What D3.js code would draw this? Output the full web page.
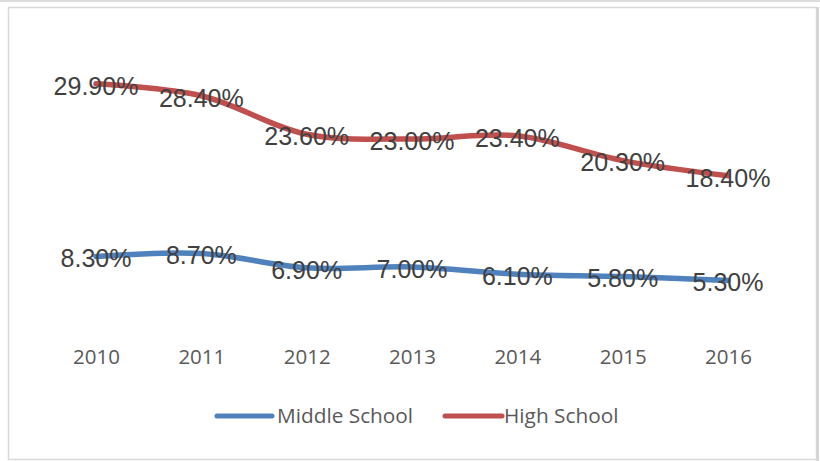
<!DOCTYPE html>
<html><head><meta charset="utf-8">
<script src="https://cdn.jsdelivr.net/npm/d3@7/dist/d3.min.js"></script>
<style>body{margin:0;background:#fff}svg{display:block}</style>
</head><body>
<svg id="c" width="820" height="461"></svg>
<script>
const years = ["2010","2011","2012","2013","2014","2015","2016"];
const middleSchool = [8.3, 8.7, 6.9, 7.0, 6.1, 5.8, 5.3];
const highSchool = [29.9, 28.4, 23.6, 23.0, 23.4, 20.3, 18.4];
const seriesNames = ["Middle School", "High School"];
const seriesColors = ["#4f81bd", "#c0504d"];

const svg = d3.select("#c");
// frame
svg.append("rect").attr("x",0).attr("y",0).attr("width",820).attr("height",2).attr("fill","#dcdcdc");
svg.append("rect").attr("x",8.5).attr("y",7.5).attr("width",808).attr("height",452)
  .attr("fill","none").attr("stroke","#d9d9d9").attr("stroke-width",1.5);
svg.append("rect").attr("x",816.5).attr("y",7).attr("width",2.5).attr("height",454).attr("fill","#d4d4d4");

const x = d3.scalePoint().domain(years).range([96, 728]);
const y = d3.scaleLinear().domain([0, 35]).range([323, 43]);

const line = d3.line().x((d,i)=>x(years[i])).y(d=>y(d)).curve(d3.curveCatmullRom.alpha(0.5));

const data = [middleSchool, highSchool];
data.forEach((s, k) => {
  svg.append("path").attr("d", line(s)).attr("fill","none")
    .attr("stroke", seriesColors[k]).attr("stroke-width",5.5)
    .attr("stroke-linecap","round").attr("stroke-linejoin","round");
});
data.forEach((s, k) => {
  svg.append("g").selectAll("text").data(s).join("text")
    .attr("x",(d,i)=>x(years[i])).attr("y",d=>y(d)+2).attr("dy","0.35em")
    .attr("text-anchor","middle")
    .attr("font-family","Liberation Sans, Arial, sans-serif").attr("font-size",25)
    .attr("fill","#404040")
    .text(d=>d.toFixed(2)+"%");
});

const ax = svg.append("g").attr("transform","translate(0,323)")
  .call(d3.axisBottom(x).tickSize(0));
ax.select(".domain").remove();
ax.selectAll("text").attr("dy",null).attr("y",41)
  .attr("font-family","Open Sans, sans-serif").attr("font-size",20.5).attr("fill","#595959");

// legend
const legend = [{x1:217,x2:272,tx:277},{x1:445,x2:502,tx:504}];
legend.forEach((l,k)=>{
  svg.append("line").attr("x1",l.x1).attr("x2",l.x2).attr("y1",416).attr("y2",416)
    .attr("stroke",seriesColors[k]).attr("stroke-width",5).attr("stroke-linecap","round");
  svg.append("text").attr("x",l.tx).attr("y",423).text(seriesNames[k])
    .attr("font-family","Open Sans, sans-serif").attr("font-size",20.8).attr("fill","#595959");
});
</script>
</body></html>
